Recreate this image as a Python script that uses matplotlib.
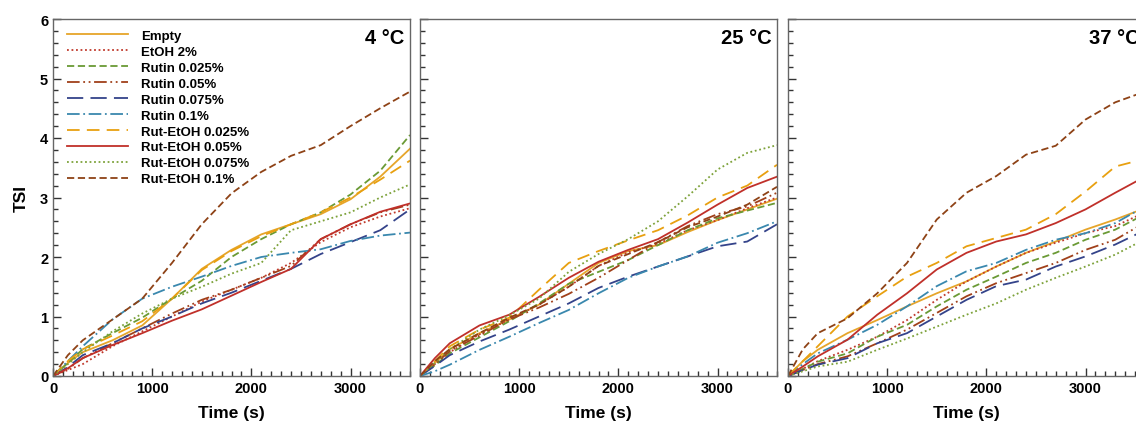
import matplotlib
matplotlib.use('Agg')
from matplotlib import pyplot as plt
from matplotlib.ticker import MultipleLocator

plt.rcParams['font.family'] = ['Liberation Sans', 'DejaVu Sans']
plt.rcParams['font.weight'] = 'bold'

time = [0, 150, 300, 600, 900, 1200, 1500, 1800, 2100, 2400, 2700, 3000, 3300, 3600]

labels = ['Empty', 'EtOH 2%', 'Rutin 0.025%', 'Rutin 0.05%', 'Rutin 0.075%',
          'Rutin 0.1%', 'Rut-EtOH 0.025%', 'Rut-EtOH 0.05%', 'Rut-EtOH 0.075%',
          'Rut-EtOH 0.1%']

temps = ['4 °C', '25 °C', '37 °C']

# TSI values, one list per sample, per temperature
tsi_4 = {
    'Empty':           [0, 0.22, 0.40, 0.60, 0.85, 1.30, 1.80, 2.12, 2.38, 2.55, 2.72, 2.97, 3.35, 3.82],
    'EtOH 2%':         [0, 0.10, 0.20, 0.50, 0.75, 1.00, 1.25, 1.45, 1.65, 1.90, 2.25, 2.50, 2.68, 2.82],
    'Rutin 0.025%':    [0, 0.22, 0.45, 0.72, 0.98, 1.30, 1.60, 2.00, 2.30, 2.55, 2.75, 3.05, 3.45, 4.05],
    'Rutin 0.05%':     [0, 0.12, 0.30, 0.55, 0.80, 1.05, 1.28, 1.45, 1.65, 1.85, 2.30, 2.55, 2.75, 2.88],
    'Rutin 0.075%':    [0, 0.15, 0.35, 0.55, 0.80, 1.00, 1.22, 1.40, 1.60, 1.80, 2.05, 2.25, 2.45, 2.80],
    'Rutin 0.1%':      [0, 0.25, 0.50, 0.95, 1.30, 1.50, 1.67, 1.85, 2.00, 2.07, 2.13, 2.27, 2.36, 2.41],
    'Rut-EtOH 0.025%': [0, 0.25, 0.45, 0.68, 0.92, 1.30, 1.78, 2.10, 2.35, 2.55, 2.75, 3.00, 3.30, 3.62],
    'Rut-EtOH 0.05%':  [0, 0.13, 0.30, 0.52, 0.72, 0.93, 1.12, 1.35, 1.58, 1.80, 2.30, 2.55, 2.76, 2.90],
    'Rut-EtOH 0.075%': [0, 0.20, 0.40, 0.75, 1.05, 1.30, 1.50, 1.72, 1.90, 2.45, 2.60, 2.75, 3.00, 3.22],
    'Rut-EtOH 0.1%':   [0, 0.35, 0.60, 0.95, 1.30, 1.90, 2.55, 3.07, 3.43, 3.70, 3.88, 4.20, 4.50, 4.78],
}

tsi_25 = {
    'Empty':           [0, 0.22, 0.45, 0.72, 0.95, 1.20, 1.55, 1.90, 2.10, 2.20, 2.42, 2.62, 2.80, 2.98],
    'EtOH 2%':         [0, 0.20, 0.40, 0.70, 0.95, 1.20, 1.50, 1.85, 2.08, 2.22, 2.45, 2.62, 2.82, 3.00],
    'Rutin 0.025%':    [0, 0.18, 0.38, 0.65, 0.92, 1.22, 1.55, 1.75, 1.95, 2.20, 2.45, 2.65, 2.78, 2.91],
    'Rutin 0.05%':     [0, 0.20, 0.42, 0.68, 0.95, 1.15, 1.38, 1.65, 1.95, 2.25, 2.52, 2.72, 2.85, 3.08],
    'Rutin 0.075%':    [0, 0.17, 0.35, 0.58, 0.78, 1.00, 1.22, 1.48, 1.67, 1.84, 2.01, 2.18, 2.26, 2.55],
    'Rutin 0.1%':      [0, 0.08, 0.19, 0.44, 0.66, 0.89, 1.11, 1.39, 1.65, 1.84, 2.01, 2.24, 2.40, 2.60],
    'Rut-EtOH 0.025%': [0, 0.25, 0.50, 0.78, 0.98, 1.45, 1.90, 2.10, 2.28, 2.45, 2.70, 3.00, 3.20, 3.55],
    'Rut-EtOH 0.05%':  [0, 0.30, 0.55, 0.85, 1.03, 1.33, 1.65, 1.92, 2.12, 2.30, 2.58, 2.88, 3.16, 3.35],
    'Rut-EtOH 0.075%': [0, 0.22, 0.45, 0.78, 1.02, 1.30, 1.75, 2.05, 2.30, 2.60, 3.02, 3.47, 3.75, 3.88],
    'Rut-EtOH 0.1%':   [0, 0.25, 0.45, 0.72, 0.98, 1.20, 1.50, 1.85, 2.05, 2.25, 2.50, 2.68, 2.88, 3.18],
}

tsi_37 = {
    'Empty':           [0, 0.25, 0.44, 0.72, 0.94, 1.17, 1.39, 1.59, 1.84, 2.07, 2.26, 2.46, 2.63, 2.82],
    'EtOH 2%':         [0, 0.12, 0.25, 0.44, 0.66, 0.94, 1.28, 1.59, 1.84, 2.07, 2.24, 2.40, 2.52, 2.75],
    'Rutin 0.025%':    [0, 0.12, 0.24, 0.38, 0.66, 0.86, 1.17, 1.45, 1.67, 1.90, 2.07, 2.29, 2.46, 2.72],
    'Rutin 0.05%':     [0, 0.10, 0.20, 0.33, 0.55, 0.78, 1.06, 1.34, 1.56, 1.73, 1.90, 2.12, 2.29, 2.58],
    'Rutin 0.075%':    [0, 0.10, 0.19, 0.30, 0.55, 0.72, 1.00, 1.28, 1.51, 1.62, 1.84, 2.01, 2.21, 2.45],
    'Rutin 0.1%':      [0, 0.20, 0.38, 0.61, 0.86, 1.17, 1.51, 1.76, 1.90, 2.12, 2.29, 2.40, 2.57, 2.85],
    'Rut-EtOH 0.025%': [0, 0.25, 0.50, 1.00, 1.34, 1.67, 1.90, 2.18, 2.32, 2.46, 2.72, 3.10, 3.52, 3.65],
    'Rut-EtOH 0.05%':  [0, 0.16, 0.33, 0.61, 1.03, 1.39, 1.79, 2.07, 2.26, 2.38, 2.57, 2.80, 3.08, 3.35],
    'Rut-EtOH 0.075%': [0, 0.08, 0.16, 0.24, 0.44, 0.63, 0.83, 1.03, 1.22, 1.45, 1.65, 1.84, 2.04, 2.30],
    'Rut-EtOH 0.1%':   [0, 0.45, 0.72, 0.97, 1.39, 1.90, 2.63, 3.08, 3.36, 3.72, 3.87, 4.31, 4.60, 4.78],
}

styles = {
    'Empty':           dict(color='#E6A52A', ls='-'),
    'EtOH 2%':         dict(color='#C0392B', ls=(0, (1, 1.5))),
    'Rutin 0.025%':    dict(color='#6A9A35', ls=(0, (4, 2))),
    'Rutin 0.05%':     dict(color='#A0401A', ls=(0, (7, 2, 1, 2, 1, 2))),
    'Rutin 0.075%':    dict(color='#34438A', ls=(0, (9, 4))),
    'Rutin 0.1%':      dict(color='#3A88AE', ls=(0, (7, 2, 1, 2))),
    'Rut-EtOH 0.025%': dict(color='#E8A010', ls=(0, (7, 4))),
    'Rut-EtOH 0.05%':  dict(color='#C0302A', ls='-'),
    'Rut-EtOH 0.075%': dict(color='#7DA23A', ls=(0, (1, 1.5))),
    'Rut-EtOH 0.1%':   dict(color='#8E4216', ls=(0, (4, 2))),
}

W, H = 1136, 427
fig = plt.figure(figsize=(W / 100, H / 100), dpi=100)
lefts = [53, 420, 788]
aw, top, bot = 357, 20, 377

for i, data in enumerate([tsi_4, tsi_25, tsi_37]):
    ax = fig.add_axes([lefts[i] / W, 1 - bot / H, aw / W, (bot - top) / H])
    for lab in labels:
        ax.plot(time, data[lab], lw=1.3, label=lab, **styles[lab])
    ax.set_xlim(0, 3600)
    ax.set_ylim(0, 6)
    ax.xaxis.set_major_locator(MultipleLocator(1000))
    ax.xaxis.set_minor_locator(MultipleLocator(100))
    ax.yaxis.set_major_locator(MultipleLocator(1))
    ax.yaxis.set_minor_locator(MultipleLocator(0.2))
    ax.tick_params(which='both', direction='in', top=False, right=False,
                   labelsize=10.5, color='#333333')
    ax.tick_params(which='major', length=6, width=1)
    ax.tick_params(which='minor', length=3.5, width=1)
    for s in ax.spines.values():
        s.set_color('#666666')
        s.set_linewidth(1)
    ax.set_xlabel('Time (s)', fontsize=12.5, fontweight='bold', labelpad=7)
    ax.text(0.985, 0.975, temps[i], transform=ax.transAxes, ha='right', va='top',
            fontsize=14.5, fontweight='bold')
    if i == 0:
        ax.set_ylabel('TSI', fontsize=12.5, fontweight='bold', labelpad=8)
        ax.legend(loc='upper left', bbox_to_anchor=(0.04, 0.97), frameon=False,
                  fontsize=9.5, handlelength=4.6, handletextpad=1.0, labelspacing=0.28,
                  borderpad=0, borderaxespad=0)
    else:
        ax.set_yticklabels([])

plt.savefig('out.png', dpi=100)
